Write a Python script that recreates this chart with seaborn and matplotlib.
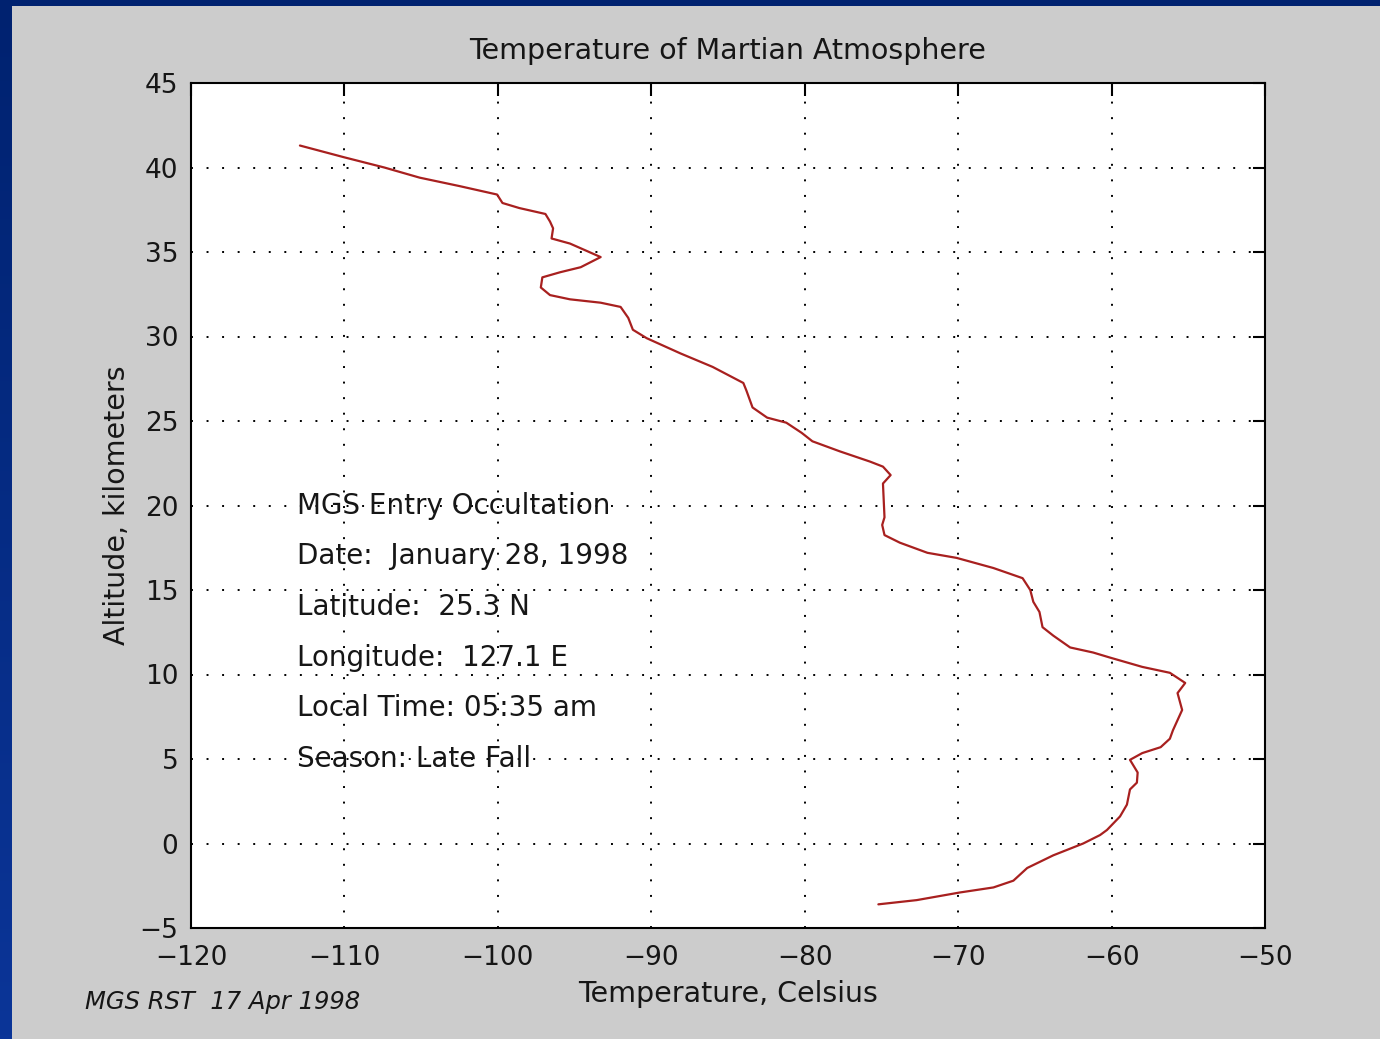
import matplotlib
matplotlib.use("Agg")
import matplotlib.pyplot as plt
from matplotlib.patches import Rectangle
from matplotlib.colors import LinearSegmentedColormap
import numpy as np
import seaborn as sns
import pandas as pd

# Temperature profile of the Martian atmosphere (MGS radio occultation)
temperature_c = [
    -112.9, -110.0, -107.4, -105.1, -102.5, -100.05, -99.7, -98.6, -96.9, -96.6,
    -96.4, -96.5, -95.3, -93.3, -94.6, -95.95, -97.1, -97.2, -96.6, -95.3,
    -93.3, -92.0, -91.5, -91.2, -90.3, -88.1, -86.0, -84.0, -83.8, -83.4,
    -82.45, -81.2, -80.2, -79.5, -77.7, -75.75, -74.9, -74.4, -74.9, -74.8,
    -74.95, -74.8, -73.8, -72.0, -70.1, -67.7, -65.8, -65.3, -65.1, -64.7,
    -64.5, -63.8, -62.7, -61.2, -60.1, -58.0, -56.2, -55.2, -55.7, -55.4,
    -55.7, -56.0, -56.2, -56.8, -58.0, -58.8, -58.3, -58.35, -58.8, -59.0,
    -59.45, -60.3, -60.75, -61.85, -63.8, -65.5, -66.4, -67.7, -69.9, -72.7,
    -75.2,
]
altitude_km = [
    41.3, 40.6, 40.0, 39.4, 38.9, 38.4, 37.9, 37.6, 37.25, 36.8,
    36.4, 35.8, 35.5, 34.7, 34.1, 33.8, 33.5, 32.9, 32.45, 32.2,
    32.0, 31.75, 31.1, 30.4, 29.9, 29.0, 28.2, 27.25, 26.8, 25.8,
    25.2, 24.9, 24.3, 23.8, 23.2, 22.6, 22.3, 21.8, 21.3, 19.3,
    18.85, 18.25, 17.8, 17.2, 16.9, 16.3, 15.7, 15.0, 14.3, 13.7,
    12.8, 12.3, 11.6, 11.3, 11.0, 10.45, 10.1, 9.5, 8.9, 7.9,
    7.3, 6.7, 6.2, 5.7, 5.35, 4.95, 4.2, 3.6, 3.2, 2.3,
    1.6, 0.8, 0.5, 0.0, -0.7, -1.45, -2.2, -2.6, -2.9, -3.35,
    -3.6,
]

x_ticks = [-120, -110, -100, -90, -80, -70, -60, -50]
y_ticks = [-5, 0, 5, 10, 15, 20, 25, 30, 35, 40, 45]

info_lines = [
    "MGS Entry Occultation",
    "Date:  January 28, 1998",
    "Latitude:  25.3 N",
    "Longitude:  127.1 E",
    "Local Time: 05:35 am",
    "Season: Late Fall",
]

title_text = "Temperature of Martian Atmosphere"
x_label = "Temperature, Celsius"
y_label = "Altitude, kilometers"
footer_text = "MGS RST  17 Apr 1998"

sns.set_theme(style="white")
plt.rcParams["font.family"] = ["DejaVu Sans"]

df = pd.DataFrame({"temperature": temperature_c, "altitude": altitude_km})

fig = plt.figure(figsize=(13.8, 10.39), dpi=100)
fig.patch.set_facecolor("#03247a")

# navy frame with a soft vertical gradient
bg = fig.add_axes([0, 0, 1, 1], zorder=-20)
bg.set_axis_off()
navy = LinearSegmentedColormap.from_list("navy", ["#002270", "#0b3598"])
bg.imshow(np.linspace(0, 1, 256).reshape(-1, 1), aspect="auto", cmap=navy,
          extent=[0, 1, 0, 1], origin="upper")
bg.set_xlim(0, 1)
bg.set_ylim(0, 1)
# grey panel inside the frame
bg.add_patch(Rectangle((12 / 1380, 0), 1 - 12 / 1380, 1 - 6 / 1039,
                       facecolor="#cccccc", edgecolor="none"))

ax = fig.add_axes([191 / 1380, 111 / 1039, 1074 / 1380, 845 / 1039])
ax.set_zorder(5)
ax.set_facecolor("white")

sns.lineplot(data=df, x="temperature", y="altitude", sort=False,
             estimator=None, color="#a8201f", linewidth=1.6, ax=ax)

ax.set_xlim(-120, -50)
ax.set_ylim(-5, 45)
ax.set_xticks(x_ticks)
ax.set_yticks(y_ticks)
ax.set_xticklabels([str(v).replace("-", "\u2212") for v in x_ticks])
ax.set_yticklabels([str(v).replace("-", "\u2212") for v in y_ticks])

ax.grid(True, color="black", linestyle=(0, (1.0, 7.0)), linewidth=1.4)
ax.set_axisbelow(True)

for sp in ax.spines.values():
    sp.set_visible(True)
    sp.set_color("black")
    sp.set_linewidth(1.5)

ax.tick_params(axis="both", direction="in", length=9, width=1.5,
               top=True, right=True, labelsize=19, colors="black",
               labelcolor="#161616")
ax.tick_params(axis="x", pad=12)
ax.tick_params(axis="y", pad=9)

ax.set_title(title_text, fontsize=20.5, color="#161616", pad=17)
ax.set_xlabel(x_label, fontsize=20.5, color="#161616", labelpad=7)
ax.set_ylabel(y_label, fontsize=20.5, color="#161616", labelpad=6)

for i, line in enumerate(info_lines):
    ax.text(-113.1, 20 - 3 * i, line, fontsize=20, color="#161616",
            ha="left", va="center")

fig.text(85 / 1380, 1 - 1002 / 1039, footer_text, fontsize=17.5,
         style="italic", color="#161616", ha="left", va="center", zorder=6)

fig.savefig("out.png", dpi=100, facecolor=fig.get_facecolor())
